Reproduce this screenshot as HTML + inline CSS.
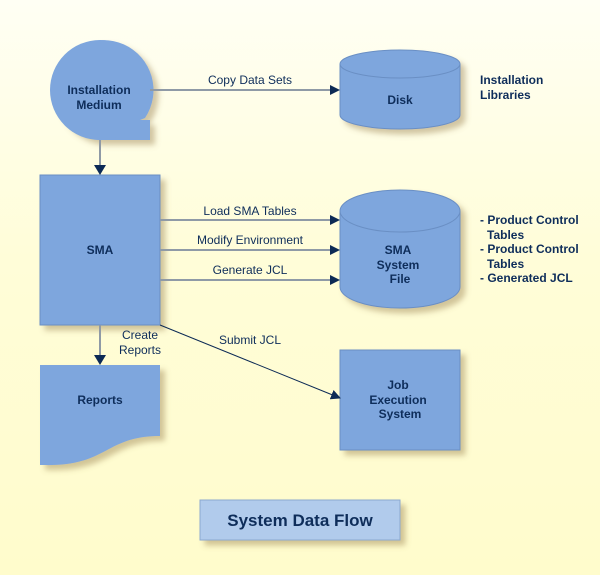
<!DOCTYPE html>
<html><head><style>
body{margin:0;width:600px;height:575px;overflow:hidden}
</style></head><body>
<svg width="600" height="575" viewBox="0 0 600 575" xmlns="http://www.w3.org/2000/svg" font-family="Liberation Sans, sans-serif">
<defs>
<linearGradient id="bg" x1="0" y1="0" x2="0" y2="1">
<stop offset="0" stop-color="#fffff4"/><stop offset="0.45" stop-color="#fffdd8"/><stop offset="1" stop-color="#fffccc"/>
</linearGradient>
<filter id="s2" x="-20%" y="-20%" width="150%" height="150%"><feDropShadow dx="5" dy="5" stdDeviation="3" flood-color="#9a8050" flood-opacity="0.45"/></filter>
<marker id="ar" markerWidth="10" markerHeight="10" refX="9" refY="5" orient="auto" markerUnits="userSpaceOnUse"><path d="M0,0 L10,5 L0,10 z" fill="#0c2a55"/></marker>
</defs>
<rect width="600" height="575" fill="url(#bg)"/>
<g fill="#7ea6dd" stroke="#6a8fc4" stroke-width="1" filter="url(#s2)">
<path d="M100,140 A50,50 0 1 1 145,118 L140,120 L150,120 L150,140 Z" stroke="none"/>
<path d="M340,64 A60,14 0 0 1 460,64 L460,115 A60,14 0 0 1 340,115 Z"/>
<rect x="40" y="175" width="120" height="150"/>
<path d="M340,211 A60,21 0 0 1 460,211 L460,287 A60,21 0 0 1 340,287 Z"/>
<path d="M40,365 L160,365 L160,436 C120,436 110,452 85,460 C65,466 50,465 40,465 Z" stroke="none"/>
<rect x="340" y="350" width="120" height="100"/>
<rect x="200" y="500" width="200" height="40" fill="#b1cbec" stroke="#8ca8d0"/>
</g>
<circle cx="100" cy="90" r="50" fill="#7ea6dd"/>
<rect x="140" y="120" width="10" height="20" fill="#7ea6dd"/>
<path d="M340,64 A60,14 0 0 0 460,64" fill="none" stroke="#6a8fc4"/>
<path d="M340,211 A60,21 0 0 0 460,211" fill="none" stroke="#6a8fc4"/>
<g stroke="#8f9aa6" stroke-width="2" fill="none">
<line x1="150" y1="90" x2="330" y2="90"/>
<line x1="100" y1="140" x2="100" y2="165"/>
<line x1="100" y1="325" x2="100" y2="355"/>
<line x1="160" y1="220" x2="330" y2="220"/>
<line x1="160" y1="250" x2="330" y2="250"/>
<line x1="160" y1="280" x2="330" y2="280"/>
</g>
<g fill="#0c2a55">
<path d="M330,85 L340,90 L330,95Z"/><path d="M94,165 L100,175 L106,165Z"/><path d="M94,355 L100,365 L106,355Z"/>
<path d="M330,215 L340,220 L330,225Z"/><path d="M330,245 L340,250 L330,255Z"/><path d="M330,275 L340,280 L330,285Z"/>
</g>
<line x1="160" y1="325" x2="340" y2="398" stroke="#0c2a55" stroke-width="1" marker-end="url(#ar)"/>
<g fill="#0e2d5a" font-size="12">
<text x="250" y="84" text-anchor="middle">Copy Data Sets</text>
<text x="250" y="215" text-anchor="middle">Load SMA Tables</text>
<text x="250" y="244" text-anchor="middle">Modify Environment</text>
<text x="250" y="274" text-anchor="middle">Generate JCL</text>
<text x="250" y="344" text-anchor="middle">Submit JCL</text>
<text x="140" y="339" text-anchor="middle">Create</text>
<text x="140" y="354" text-anchor="middle">Reports</text>
</g>
<g fill="#0e2d5a" font-size="12" font-weight="bold" text-anchor="middle">
<text x="99" y="94">Installation</text><text x="99" y="109">Medium</text>
<text x="400" y="104">Disk</text>
<text x="100" y="254">SMA</text>
<text x="398" y="254">SMA</text><text x="398" y="269">System</text><text x="400" y="283">File</text>
<text x="100" y="404">Reports</text>
<text x="398" y="389">Job</text><text x="398" y="404">Execution</text><text x="400" y="418">System</text>
</g>
<g fill="#0e2d5a" font-size="12" font-weight="bold">
<text x="480" y="84">Installation</text><text x="480" y="99">Libraries</text>
<text x="480" y="224">- Product Control</text><text x="487" y="239">Tables</text>
<text x="480" y="253">- Product Control</text><text x="487" y="268">Tables</text>
<text x="480" y="282">- Generated JCL</text>
<text x="300" y="526" font-size="17" text-anchor="middle">System Data Flow</text>
</g>
</svg>
</body></html>
